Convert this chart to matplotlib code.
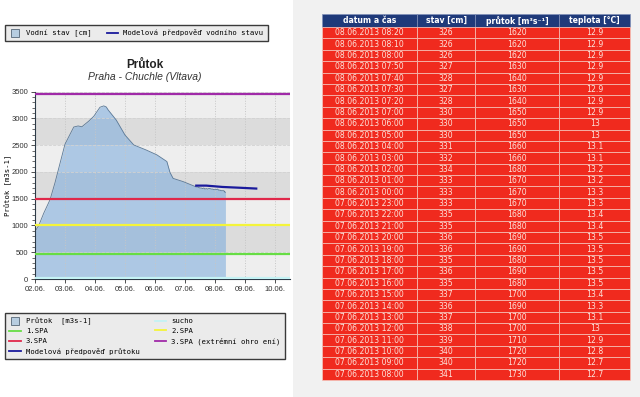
import matplotlib
matplotlib.use("Agg")
import numpy as np
import pandas as pd
import matplotlib.pyplot as plt
import matplotlib.dates as mdates
from matplotlib.lines import Line2D
from matplotlib.patches import Rectangle
from matplotlib.ticker import MultipleLocator

############################
#  DATA
############################

# table (newest first, as shown)
tab_time = ["08.06.2013 08:20", "08.06.2013 08:10", "08.06.2013 08:00", "08.06.2013 07:50",
            "08.06.2013 07:40", "08.06.2013 07:30", "08.06.2013 07:20", "08.06.2013 07:00",
            "08.06.2013 06:00", "08.06.2013 05:00", "08.06.2013 04:00", "08.06.2013 03:00",
            "08.06.2013 02:00", "08.06.2013 01:00", "08.06.2013 00:00", "07.06.2013 23:00",
            "07.06.2013 22:00", "07.06.2013 21:00", "07.06.2013 20:00", "07.06.2013 19:00",
            "07.06.2013 18:00", "07.06.2013 17:00", "07.06.2013 16:00", "07.06.2013 15:00",
            "07.06.2013 14:00", "07.06.2013 13:00", "07.06.2013 12:00", "07.06.2013 11:00",
            "07.06.2013 10:00", "07.06.2013 09:00", "07.06.2013 08:00"]
tab_stav = [326, 326, 326, 327, 328, 327, 328, 330, 330, 330, 331, 332, 334, 333, 333, 333,
            335, 335, 336, 336, 335, 336, 335, 337, 336, 337, 338, 339, 340, 340, 341]
tab_prutok = [1620, 1620, 1620, 1630, 1640, 1630, 1640, 1650, 1650, 1650, 1660, 1660, 1680,
              1670, 1670, 1670, 1680, 1680, 1690, 1690, 1680, 1690, 1680, 1700, 1690, 1700,
              1700, 1710, 1720, 1720, 1730]
tab_teplota = [12.9, 12.9, 12.9, 12.9, 12.9, 12.9, 12.9, 12.9, 13, 13, 13.1, 13.1, 13.2, 13.2,
               13.3, 13.3, 13.4, 13.4, 13.5, 13.5, 13.5, 13.5, 13.5, 13.4, 13.3, 13.1, 13,
               12.9, 12.8, 12.7, 12.7]
tab_header = ["datum a čas", "stav [cm]", "průtok [m³s⁻¹]", "teplota [°C]"]

# hydrograph before the table period
early_time = ["2013-06-02 00:00", "2013-06-02 03:00", "2013-06-02 07:00", "2013-06-02 12:00",
              "2013-06-02 16:00", "2013-06-03 00:00", "2013-06-03 07:00", "2013-06-03 10:30",
              "2013-06-03 13:30", "2013-06-03 19:00", "2013-06-03 23:00", "2013-06-04 04:00",
              "2013-06-04 07:00", "2013-06-04 09:00", "2013-06-04 10:30", "2013-06-04 17:00",
              "2013-06-05 00:00", "2013-06-05 07:00", "2013-06-05 17:00", "2013-06-06 01:30",
              "2013-06-06 09:30", "2013-06-06 12:00", "2013-06-06 14:30", "2013-06-06 22:30"]
early_flow = [890, 1000, 1230, 1480, 1800, 2520, 2840, 2860, 2845, 2950, 3040, 3210,
              3235, 3215, 3160, 2970, 2690, 2505, 2410, 2320, 2195, 1990, 1880, 1820]

# model forecast
fc_time = ["2013-06-07 09:00", "2013-06-07 17:00", "2013-06-08 06:00",
           "2013-06-08 20:00", "2013-06-09 09:00"]
fc_flow = [1745, 1745, 1720, 1705, 1690]

# flood levels
spa_names = ["sucho", "1.SPA", "2.SPA", "3.SPA", "3.SPA (extrémní ohro ení)"]
spa_values = [15, 460, 1000, 1500, 3450]
spa_colors = ["#c4f2f4", "#66dd44", "#f4f43a", "#e0284a", "#a02aa8"]

############################
# PLOT
############################

fig = plt.figure(figsize=(6.4, 3.97), dpi=100, facecolor="#f1f1f1")
fig.patches.append(Rectangle((0, 0), 293 / 640, 1, transform=fig.transFigure,
                             facecolor="white", edgecolor="none", zorder=-10))

W, H = 640.0, 397.0
ax = fig.add_axes([35 / W, 1 - 279 / H, 255 / W, 187.3 / H])

t_all = pd.to_datetime(early_time + [pd.to_datetime(s, format="%d.%m.%Y %H:%M").strftime("%Y-%m-%d %H:%M")
                                     for s in tab_time[::-1]])
q_all = early_flow + tab_prutok[::-1]

ax.set_facecolor("#eeeeee")
for lo in (500, 1500, 2500):
    ax.axhspan(lo, lo + 500, color="#dcdcdc", lw=0, zorder=0)

ax.fill_between(t_all, q_all, 0, color="#78aadc", alpha=0.55, lw=0, zorder=1)
ax.plot(t_all, q_all, color="#5a7896", lw=0.6, zorder=2)

for name, v, c in zip(spa_names, spa_values, spa_colors):
    ax.axhline(v, color=c, lw=1.6, zorder=3)

ax.plot(pd.to_datetime(fc_time), fc_flow, color="#1a1a9c", lw=1.6, zorder=4)

ax.set_xlim(pd.Timestamp("2013-06-02"), pd.Timestamp("2013-06-10 12:00"))
ax.set_ylim(0, 3500)
ax.xaxis.set_major_locator(mdates.DayLocator())
ax.xaxis.set_major_formatter(mdates.DateFormatter("%d.%m."))
ax.yaxis.set_major_locator(MultipleLocator(500))
ax.yaxis.set_minor_locator(MultipleLocator(100))
ax.xaxis.grid(True, color="#c6c6c6", ls=":", lw=0.7)
ax.yaxis.grid(True, color="#d2d2d2", ls="--", lw=0.6)
ax.set_axisbelow("line")
for s in ("top", "right"):
    ax.spines[s].set_visible(False)
for s in ("left", "bottom"):
    ax.spines[s].set_color("#2c3a48")
    ax.spines[s].set_linewidth(0.8)
ax.tick_params(axis="both", labelsize=5.5, colors="#333333", length=3, width=0.6, pad=2)
ax.tick_params(axis="y", which="minor", length=2, width=0.5, colors="#333333")
for lab in ax.get_xticklabels() + ax.get_yticklabels():
    lab.set_family("Liberation Sans")

ax.set_ylabel("Průtok [m3s-1]", family="DejaVu Sans Mono", fontsize=5.2, va="center")
ax.yaxis.set_label_coords(-27 / 255, 0.5)

fig.text(145 / W, 1 - 65 / H, "Průtok", ha="center", va="center",
         family="Liberation Sans", fontsize=8.5, fontweight="bold", color="#222222")
fig.text(145 / W, 1 - 76.5 / H, "Praha - Chuchle (Vltava)", ha="center", va="center",
         family="Liberation Sans", fontsize=7.5, style="italic", color="#333333")

# legends
def sq():
    return Line2D([], [], ls="none", marker="s", markersize=5.5,
                  markerfacecolor="#b7cde0", markeredgecolor="#556677", markeredgewidth=0.6)

leg_kw = dict(prop={"family": "DejaVu Sans Mono", "size": 5.2}, fancybox=False,
              facecolor="#ebebeb", edgecolor="#3a3a3a", framealpha=1, borderaxespad=0,
              handlelength=1.6, handletextpad=0.7, columnspacing=2.1, borderpad=0.6,
              labelspacing=0.5, loc="upper left")

top_h = [sq(), Line2D([], [], color="#1a1a9c", lw=1.3)]
fig.legend(top_h, ["Vodní stav [cm]", "Modelová předpověď vodního stavu"], ncol=2,
           bbox_to_anchor=(5 / W, 1 - 25 / H), **leg_kw)

bot_h = [sq(), Line2D([], [], color=spa_colors[1], lw=1.3),
         Line2D([], [], color=spa_colors[3], lw=1.3), Line2D([], [], color="#1a1a9c", lw=1.3),
         Line2D([], [], color=spa_colors[0], lw=1.3), Line2D([], [], color=spa_colors[2], lw=1.3),
         Line2D([], [], color=spa_colors[4], lw=1.3)]
bot_l = ["Průtok  [m3s-1]", spa_names[1], spa_names[3], "Modelová předpověď průtoku",
         spa_names[0], spa_names[2], spa_names[4]]
fig.legend(bot_h, bot_l, ncol=2, bbox_to_anchor=(5 / W, 1 - 313 / H), **leg_kw)

############################
# TABLE
############################

tax = fig.add_axes([322 / W, 1 - 380 / H, 308 / W, 366 / H])
tax.axis("off")
cells = [[t, str(s), str(p), f"{v:g}"] for t, s, p, v in zip(tab_time, tab_stav, tab_prutok, tab_teplota)]
col_w = [95, 58.3, 84.3, 70.7]
tbl = tax.table(cellText=cells, colLabels=tab_header, colWidths=[w / 308 for w in col_w],
                cellLoc="center", bbox=[0, 0, 1, 1])
tbl.auto_set_font_size(False)
for (r, c), cell in tbl.get_celld().items():
    cell.set_edgecolor("#f6c6bc")
    cell.set_linewidth(0.5)
    txt = cell.get_text()
    txt.set_fontsize(5.6)
    txt.set_family("DejaVu Sans")
    if r == 0:
        cell.set_facecolor("#1f3a7a")
        cell.set_edgecolor("#8090b8")
        cell.set_height(cell.get_height() * 1.15)
        txt.set_color("white")
        txt.set_fontweight("bold")
    else:
        cell.set_facecolor("#f02a1e")
        txt.set_color("#fde2da")

fig.savefig("out.png", dpi=100, facecolor=fig.get_facecolor())
